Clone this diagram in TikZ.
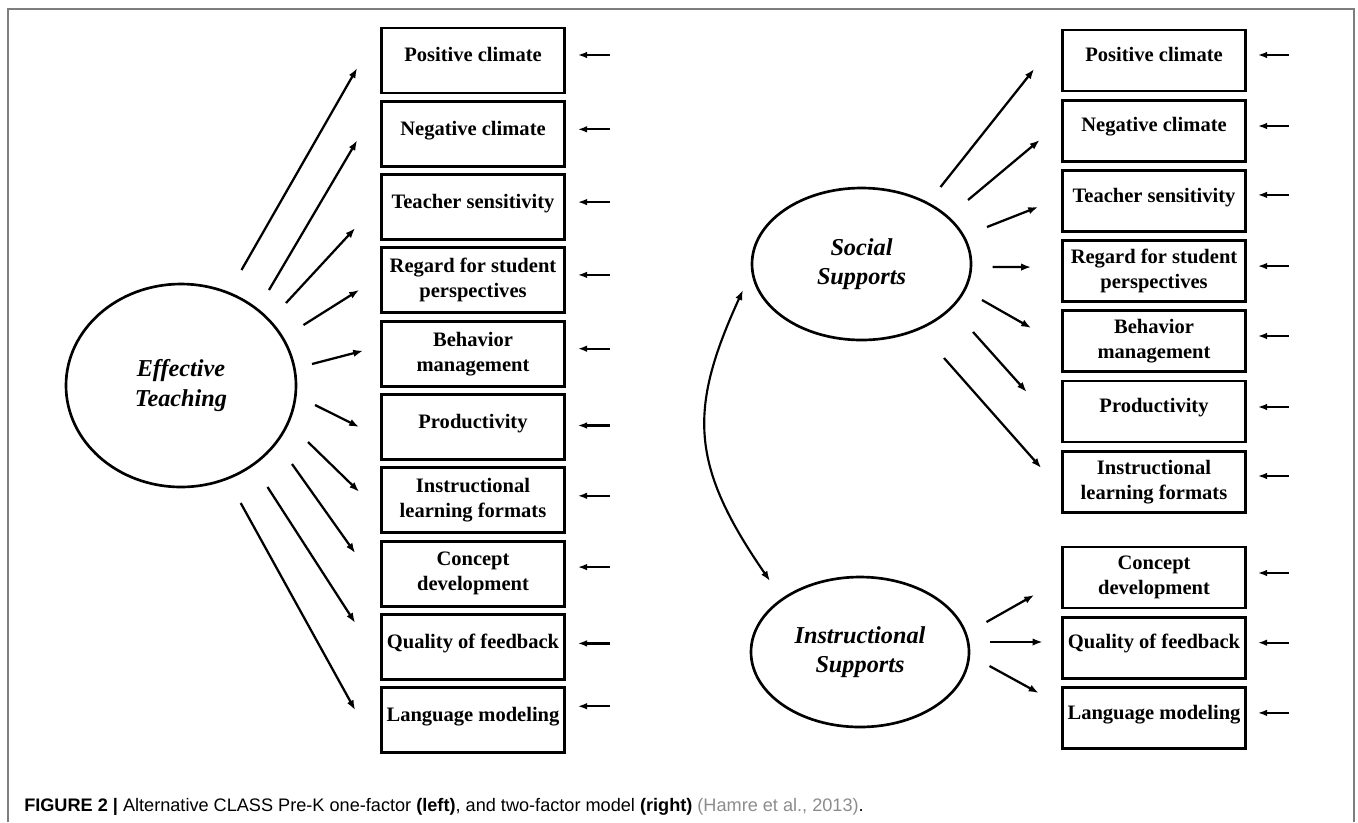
\documentclass[tikz,border=0pt]{standalone}
\usepackage{fontspec}
\setmainfont{Liberation Serif}
\newfontfamily\capfont{Liberation Sans}
\usetikzlibrary{shapes.geometric,arrows.meta,calc}
\definecolor{framegray}{RGB}{125,125,125}
\definecolor{citegray}{RGB}{140,140,140}

\begin{document}
\begin{tikzpicture}[x=0.75pt,y=0.75pt,yscale=-1,xscale=1,
  latent/.style={draw,ellipse,line width=2pt,inner sep=0pt,align=center,font=\bfseries\itshape\fontsize{18.2}{21.8}\selectfont},
  ind/.style={draw,rectangle,line width=2.2pt,inner sep=2pt,align=center,minimum width=137pt,font=\bfseries\fontsize{15.4}{18.8}\selectfont},
  indL/.style={ind,minimum height=48.75pt},
  indR/.style={ind,minimum height=45.75pt},
  one/.style={text height=10.7pt,text depth=8.9pt},
  load/.style={-{Latex[length=7.5pt,width=5.5pt]},line width=1.7pt},
  err/.style={-{Latex[length=7pt,width=5pt]},line width=1.7pt},
  cov/.style={{Latex[length=7.5pt,width=5.5pt]}-{Latex[length=7.5pt,width=5.5pt]},line width=1.6pt}]
\useasboundingbox (0,0) rectangle (1358,822);

%Shape: Frame
\draw [framegray,line width=1.1pt] (8,822) -- (8,9) -- (1354,9) -- (1354,822);

%Shape: Ellipse (one-factor model)
\node [latent,minimum width=172.5pt,minimum height=152.25pt] (ET) at (181,385.5) {Effective\\Teaching};

%Shape: Rectangles (left)
\node [indL,one] (L1) at (473,60.5) {Positive climate};
\node [indL,one] (L2) at (473,133.8) {Negative climate};
\node [indL,one] (L3) at (473,207.1) {Teacher sensitivity};
\node [indL] (L4) at (473,280.4) {Regard for student\\perspectives};
\node [indL] (L5) at (473,353.7) {Behavior\\management};
\node [indL,one] (L6) at (473,427) {Productivity};
\node [indL] (L7) at (473,500.3) {Instructional\\learning formats};
\node [indL] (L8) at (473,573.6) {Concept\\development};
\node [indL,one] (L9) at (473,646.9) {Quality of feedback};
\node [indL,one] (L10) at (473,720.2) {Language modeling};

%Straight Lines [loadings, left]
\draw [load] ($(ET)+(60.5,-115.5)$) -- ($(L1.west)+(-23,7.5)$);
\draw [load] ($(ET)+(88,-95.5)$) -- ($(L2.west)+(-23,6.5)$);
\draw [load] ($(ET)+(105,-82.5)$) -- ($(L3.west)+(-25,21)$);
\draw [load] ($(ET)+(122.5,-60.5)$) -- ($(L4.west)+(-21,9.5)$);
\draw [load] ($(ET)+(131,-21.5)$) -- ($(L5.west)+(-17,-3)$);
\draw [load] ($(ET)+(134,19.5)$) -- ($(L6.west)+(-21,0)$);
\draw [load] ($(ET)+(127,56.5)$) -- ($(L7.west)+(-21,-8.5)$);
\draw [load] ($(ET)+(111,78.5)$) -- ($(L8.west)+(-25,-20.5)$);
\draw [load] ($(ET)+(86.5,101.5)$) -- ($(L9.west)+(-25,-24)$);
\draw [load] ($(ET)+(59.7,117.5)$) -- ($(L10.west)+(-25,-10)$);

%Straight Lines [errors, left]
\draw [err] ($(L1.east)+(44,-5.5)$) -- ($(L1.east)+(12,-5.5)$);
\draw [err] ($(L2.east)+(44,-4.5)$) -- ($(L2.east)+(12,-4.5)$);
\draw [err] ($(L3.east)+(44,-5)$) -- ($(L3.east)+(12,-5)$);
\draw [err] ($(L4.east)+(44,-5.5)$) -- ($(L4.east)+(12,-5.5)$);
\draw [err] ($(L5.east)+(44,-5)$) -- ($(L5.east)+(12,-5)$);
\draw [err] ($(L6.east)+(44,-1.5)$) -- ($(L6.east)+(12,-1.5)$);
\draw [err] ($(L7.east)+(44,-4.5)$) -- ($(L7.east)+(12,-4.5)$);
\draw [err] ($(L8.east)+(44,-6.5)$) -- ($(L8.east)+(12,-6.5)$);
\draw [err] ($(L9.east)+(44,-3.5)$) -- ($(L9.east)+(12,-3.5)$);
\draw [err] ($(L10.east)+(44,-14)$) -- ($(L10.east)+(12,-14)$);

%Shape: Ellipses (two-factor model)
\node [latent,minimum width=164.25pt,minimum height=114pt] (SS) at (861.5,264) {Social\\Supports};
\node [latent,minimum width=163.5pt,minimum height=112.5pt] (IS) at (860,652) {Instructional\\Supports};

%Shape: Rectangles (right)
\node [indR,one] (R1) at (1154,60.5) {Positive climate};
\node [indR,one] (R2) at (1154,130.7) {Negative climate};
\node [indR,one] (R3) at (1154,200.9) {Teacher sensitivity};
\node [indR] (R4) at (1154,271.1) {Regard for student\\perspectives};
\node [indR] (R5) at (1154,341.3) {Behavior\\management};
\node [indR,one] (R6) at (1154,411.5) {Productivity};
\node [indR] (R7) at (1154,481.7) {Instructional\\learning formats};
\node [indR] (R8) at (1154,577.5) {Concept\\development};
\node [indR,one] (R9) at (1154,647.7) {Quality of feedback};
\node [indR,one] (R10) at (1154,717.9) {Language modeling};

%Curve Lines [covariance]
\draw [cov] ($(SS)+(-118.5,26)$) .. controls +(-55,120) and +(-80,-116) .. ($(IS)+(-90,-71)$);

%Straight Lines [loadings, right]
\draw [load] ($(SS)+(79,-77)$) -- ($(R1.west)+(-27,8.5)$);
\draw [load] ($(SS)+(106.5,-64)$) -- ($(R2.west)+(-21.5,9.3)$);
\draw [load] ($(SS)+(125.5,-37)$) -- ($(R3.west)+(-23,6)$);
\draw [load] ($(SS)+(131,3)$) -- ($(R4.west)+(-30,-4)$);
\draw [load] ($(SS)+(120.5,36)$) -- ($(R5.west)+(-30,-13.3)$);
\draw [load] ($(SS)+(111.5,68)$) -- ($(R6.west)+(-34.5,-19.5)$);
\draw [load] ($(SS)+(82.5,94)$) -- ($(R7.west)+(-20,-13.7)$);
\draw [load] ($(IS)+(126.5,-30)$) -- ($(R8.west)+(-27,17.5)$);
\draw [load] ($(IS)+(130,-10)$) -- ($(R9.west)+(-18.5,-5.7)$);
\draw [load] ($(IS)+(129.5,14)$) -- ($(R10.west)+(-22.5,-24.9)$);

%Straight Lines [errors, right]
\draw [err] ($(R1.east)+(42,-5.5)$) -- ($(R1.east)+(11,-5.5)$);
\draw [err] ($(R2.east)+(42,-4.7)$) -- ($(R2.east)+(11,-4.7)$);
\draw [err] ($(R3.east)+(42,-6)$) -- ($(R3.east)+(11,-6)$);
\draw [err] ($(R4.east)+(42,-5)$) -- ($(R4.east)+(11,-5)$);
\draw [err] ($(R5.east)+(42,-5.3)$) -- ($(R5.east)+(11,-5.3)$);
\draw [err] ($(R6.east)+(42,-4.5)$) -- ($(R6.east)+(11,-4.5)$);
\draw [err] ($(R7.east)+(42,-5.7)$) -- ($(R7.east)+(11,-5.7)$);
\draw [err] ($(R8.east)+(42,-4.5)$) -- ($(R8.east)+(11,-4.5)$);
\draw [err] ($(R9.east)+(42,-5)$) -- ($(R9.east)+(11,-5)$);
\draw [err] ($(R10.east)+(42,-5)$) -- ($(R10.east)+(11,-5)$);

% Text Node
\node [anchor=base west,inner sep=0pt,font=\capfont\fontsize{13.6}{16}\selectfont] (cap) at (24,811.5) {\textbf{FIGURE 2 |} Alternative CLASS Pre-K one-factor \textbf{(left)}, and two-factor model \textbf{(right)} {\color{citegray}(Hamre et al., 2013)}.};
\end{tikzpicture}
\end{document}
